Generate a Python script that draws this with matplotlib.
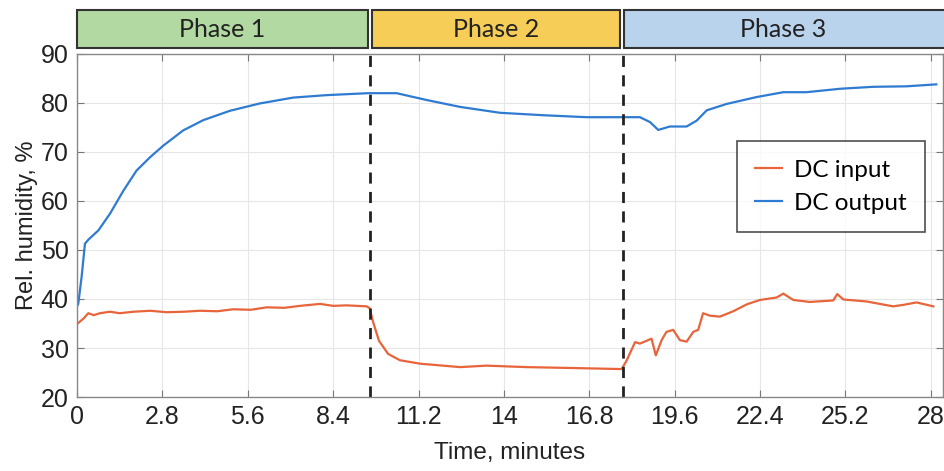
import matplotlib
matplotlib.use('Agg')
import matplotlib.pyplot as plt
from matplotlib.patches import Rectangle
import matplotlib.transforms as mtransforms

# DC output (blue)
t_out = [0.0, 0.04, 0.15, 0.26, 0.37, 0.70, 1.08, 1.52, 1.95, 2.39, 2.83, 3.48, 4.14, 5.01,
         5.99, 7.09, 8.18, 9.55, 10.48, 11.47, 12.56, 13.87, 15.29, 16.71, 17.91, 18.46,
         18.79, 19.06, 19.44, 19.99, 20.32, 20.65, 21.3, 22.28, 23.16, 23.92, 25.02, 26.11,
         27.2, 28.18]
rh_out = [38.5, 39.0, 44.5, 51.3, 52.1, 54.0, 57.4, 62.1, 66.2, 68.9, 71.3, 74.4, 76.5, 78.4,
          79.9, 81.1, 81.6, 82.0, 82.0, 80.6, 79.2, 78.0, 77.5, 77.1, 77.1, 77.1,
          76.1, 74.5, 75.2, 75.2, 76.4, 78.5, 79.8, 81.2, 82.2, 82.2, 82.9, 83.3,
          83.4, 83.8]

# DC input (orange)
t_in = [0.0, 0.21, 0.37, 0.55, 0.75, 1.08, 1.4, 1.85, 2.4, 2.94, 3.5, 4.03, 4.6, 5.12, 5.7,
        6.22, 6.8, 7.31, 7.97, 8.4, 8.84, 9.5,
        9.6, 9.7, 9.9, 10.2, 10.59, 11.25, 12.56, 13.43, 14.74, 16.38, 17.86, 18.02, 18.3,
        18.46, 18.84, 18.98, 19.17, 19.33, 19.55, 19.77, 19.99, 20.21, 20.37, 20.53, 20.75,
        21.08, 21.52, 21.96, 22.39, 22.94, 23.16, 23.49, 24.03, 24.8, 24.93, 25.13, 25.89,
        26.76, 27.1, 27.53, 28.08]
rh_in = [34.9, 36.0, 37.1, 36.7, 37.1, 37.4, 37.1, 37.4, 37.6, 37.3, 37.4, 37.6, 37.5, 37.9, 37.8,
         38.3, 38.2, 38.6, 39.0, 38.6, 38.7, 38.5,
         38.1, 35.5, 31.5, 28.8, 27.5, 26.8, 26.1, 26.4, 26.1, 25.9, 25.7, 27.4, 31.2,
         30.9, 31.9, 28.5, 31.6, 33.3, 33.7, 31.6, 31.3, 33.3, 33.7, 37.1, 36.6,
         36.4, 37.5, 38.9, 39.8, 40.3, 41.1, 39.8, 39.4, 39.7, 41.0, 39.9, 39.5,
         38.5, 38.8, 39.3, 38.5]

phase_names = ['Phase 1', 'Phase 2', 'Phase 3']
phase_start = [0.0, 9.67, 17.93]
phase_end = [9.54, 17.80, 29.5]
phase_colors = ['#b3d9a2', '#f6cd57', '#b9d3ec']
boundaries = [9.6, 17.9]

xticks = [0, 2.8, 5.6, 8.4, 11.2, 14, 16.8, 19.6, 22.4, 25.2, 28]
xticklabels = ['0', '2.8', '5.6', '8.4', '11.2', '14', '16.8', '19.6', '22.4', '25.2', '28']
yticks = [20, 30, 40, 50, 60, 70, 80, 90]

fig = plt.figure(figsize=(9.44, 4.71), dpi=100)
ax = fig.add_axes([0.0816, 0.1571, 0.9174, 0.7283])

ax.plot(t_in, rh_in, color='#e8643a', lw=1.6, label='DC input')
ax.plot(t_out, rh_out, color='#2f7bd2', lw=1.6, label='DC output')

for b in boundaries:
    ax.axvline(b, color='#222222', lw=2, ls=(0, (4, 3)))

ax.set_xlim(0, 28.4)
ax.set_ylim(20, 90)
ax.set_xticks(xticks)
ax.set_xticklabels(xticklabels)
ax.set_yticks(yticks)
ax.grid(True, color='#e6e6e6', lw=0.8)
ax.set_axisbelow(True)
ax.tick_params(direction='in', top=True, right=True, length=5, color='#777777',
               labelsize=18, labelcolor='#222222', pad=6)
for s in ax.spines.values():
    s.set_color('#888888')
    s.set_linewidth(1.0)
for lab in ax.get_xticklabels() + ax.get_yticklabels():
    lab.set_family('Liberation Sans')

ax.set_xlabel('Time, minutes', fontsize=17.5, family='Liberation Sans', color='#222222', labelpad=9)
ax.set_ylabel('Rel. humidity, %', fontsize=17, family='Liberation Sans', color='#222222', labelpad=2)

# phase boxes above the axes
trans = mtransforms.blended_transform_factory(ax.transData, ax.transAxes)
for name, a, b, c in zip(phase_names, phase_start, phase_end, phase_colors):
    r = Rectangle((a, 1.0175), b - a, 0.1105, transform=trans, facecolor=c,
                  edgecolor='#333333', lw=1.5, clip_on=False)
    ax.add_patch(r)
    xm = (a + min(b, 28.4)) / 2
    ax.text(xm, 1.0175 + 0.1105 / 2, name, transform=trans, ha='center', va='center',
            fontsize=18, family='Lato', color='#222222')

leg = ax.legend(loc='upper left', bbox_to_anchor=(0.762, 0.745), frameon=True,
                fancybox=False, edgecolor='#222222', handlelength=1.1, handletextpad=0.5,
                borderpad=0.75, borderaxespad=0, labelspacing=0.5,
                prop={'family': 'Lato', 'size': 17.5})
leg.get_frame().set_linewidth(1.2)

fig.savefig('out.png', dpi=100)
